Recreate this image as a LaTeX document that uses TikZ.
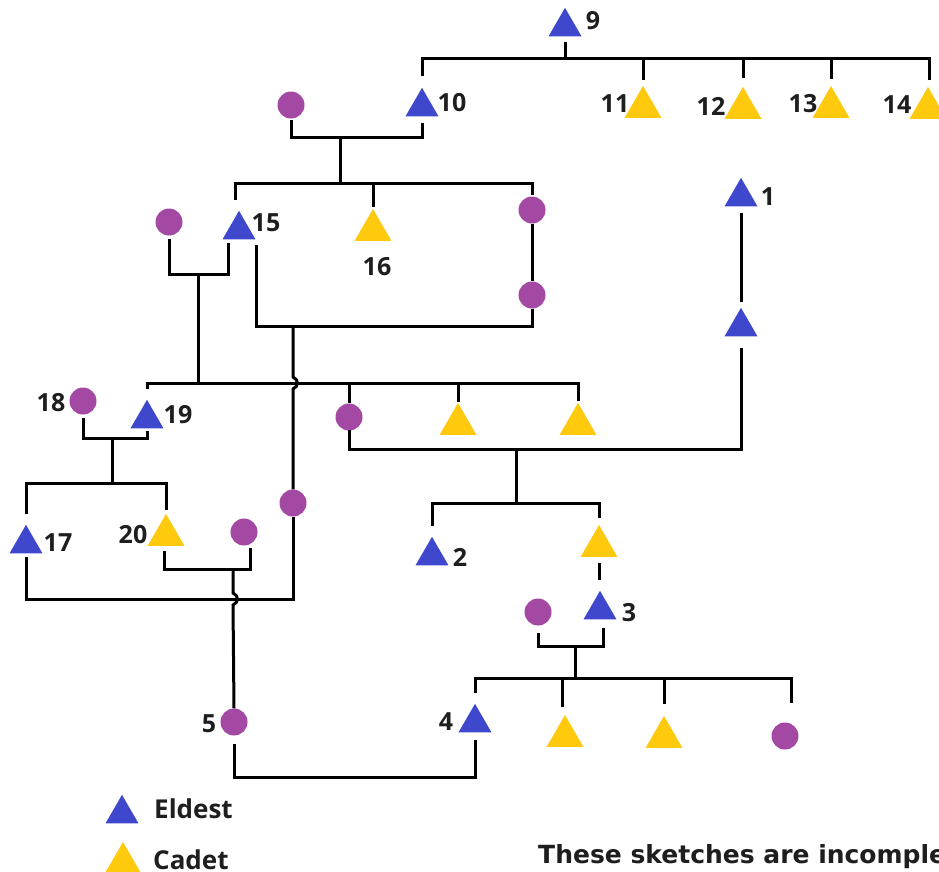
\documentclass[tikz,border=0pt]{standalone}
\usepackage{fontspec}
\setmainfont{Open Sans}
\newfontfamily\notefont{DejaVu Sans}
\usetikzlibrary{shapes.geometric}
\definecolor{eld}{HTML}{3F48CC}
\definecolor{cad}{HTML}{FFC90E}
\definecolor{fem}{HTML}{A349A4}
\definecolor{ink}{HTML}{1E1E1E}
\begin{document}
\begin{tikzpicture}[x=1pt,y=-1pt,
  eldest/.style={regular polygon,regular polygon sides=3,fill=eld,minimum size=38pt,inner sep=0pt,yshift=-4.8pt},
  cadet/.style={regular polygon,regular polygon sides=3,fill=cad,minimum size=42.7pt,inner sep=0pt,yshift=-5.3pt},
  female/.style={circle,fill=fem,minimum size=27pt,inner sep=0pt},
  num/.style={font=\bfseries\fontsize{25}{25}\selectfont,text=ink,inner sep=0pt},
  legtext/.style={font=\bfseries\fontsize{26}{26}\selectfont,text=ink,inner sep=0pt,anchor=base west},
  notetext/.style={font=\notefont\bfseries\fontsize{25}{25}\selectfont,text=ink,inner sep=0pt,anchor=base west},
  link/.style={line width=3pt,draw=black}]
\useasboundingbox (0,0) rectangle (939,871);
\fill[white] (0,0) rectangle (939,871);

% ---- people ----
\node[eldest] (t9) at (565,22) {};
\node[eldest] (t10) at (422,102) {};
\node[cadet] (t11) at (643,102) {};
\node[cadet] (t12) at (743,103) {};
\node[cadet] (t13) at (831,102) {};
\node[cadet] (t14) at (928,103) {};
\node[female] (c10w) at (291,105) {};
\node[eldest] (t15) at (239,225) {};
\node[cadet] (t16) at (373,225) {};
\node[female] (c15a) at (532,210) {};
\node[female] (c15b) at (532,295) {};
\node[female] (c15w) at (169,222) {};
\node[eldest] (t1) at (741,192) {};
\node[eldest] (t1s) at (741,322) {};
\node[female] (c18) at (83,401) {};
\node[eldest] (t19) at (147,414) {};
\node[female] (cA) at (349,417) {};
\node[cadet] (tY1) at (458,419) {};
\node[cadet] (tY2) at (578,419) {};
\node[female] (cm) at (293,503) {};
\node[eldest] (t17) at (26,539) {};
\node[cadet] (t20) at (166,530) {};
\node[female] (c20w) at (244,532) {};
\node[female] (c5) at (234,722) {};
\node[eldest] (t2) at (432,551) {};
\node[cadet] (tY3) at (599,541) {};
\node[eldest] (t3) at (600,605) {};
\node[female] (c3w) at (538,612) {};
\node[eldest] (t4) at (475,718) {};
\node[cadet] (tY4) at (565,731) {};
\node[cadet] (tY5) at (664,732) {};
\node[female] (cD) at (785,736) {};

% ---- labels ----
\node[num] (l9) at (593,21) {9};
\node[num] (l10) at (452,103) {10};
\node[num] (l11) at (615,104) {11};
\node[num] (l12) at (711,106) {12};
\node[num] (l13) at (803,104) {13};
\node[num] (l14) at (897,105) {14};
\node[num] (l15) at (266,223) {15};
\node[num] (l16) at (377,267) {16};
\node[num] (l1) at (768,197) {1};
\node[num] (l18) at (51,403) {18};
\node[num] (l19) at (178,415) {19};
\node[num] (l17) at (58,543) {17};
\node[num] (l20) at (133,535) {20};
\node[num] (l2) at (460,557) {2};
\node[num] (l3) at (629,613) {3};
\node[num] (l4) at (446,722) {4};
\node[num] (l5) at (209,724) {5};

% ---- legend ----
\node[eldest] (legE) at (122,809) {};
\node[cadet] (legC) at (123,858) {};
\node[legtext] (legEt) at (154,818) {Eldest};
\node[legtext] (legCt) at (153,869) {Cadet};
\node[notetext] (note) at (538,863) {These sketches are incomple};

% ---- connectors ----
% family of 9
\draw[link] (t9 |- 0,42) -- (t9 |- 0,58);
\draw[link] (t10 |- 0,76) |- (929,58) -- (929,80);
\draw[link] (t11 |- 0,58) -- (t11 |- 0,80);
\draw[link] (t12 |- 0,58) -- (t12 |- 0,78);
\draw[link] (t13 |- 0,58) -- (t13 |- 0,79);
% 10 and wife
\draw[link] (c10w |- 0,120) |- (t10 |- 0,137) -- (t10 |- 0,123);
\coordinate (m10) at (340,137);
\draw[link] (m10) -- (m10 |- 0,183);
\draw[link] (235,200) |- (c15a |- 0,183) -- (c15a |- 0,195);
\draw[link] (t16 |- 0,183) -- (t16 |- 0,207);
\draw[link] (c15a.south) -- (c15b.north);
% 15 and second wife
\draw[link] (256,245) |- (c15b |- 0,326) -- (c15b |- 0,309);
\coordinate (m15b) at (293,326);
\draw[link] (m15b) -- (293,377) .. controls (299,380) and (299,386) .. (293,389) -- (cm.north);
% 15 and first wife
\draw[link] (c15w |- 0,239) |- (228,274) -- (228,243);
\coordinate (m15a) at (198,274);
\draw[link] (m15a) -- (m15a |- 0,383);
\draw[link] (t19 |- 0,389) |- (tY2 |- 0,383) -- (tY2 |- 0,401);
\draw[link] (cA |- 0,383) -- (cA.north);
\draw[link] (tY1 |- 0,383) -- (tY1 |- 0,402);
% 18 and 19
\draw[link] (c18 |- 0,418) |- (t19 |- 0,438) -- (t19 |- 0,431);
\coordinate (m18) at (112,438);
\draw[link] (m18) -- (m18 |- 0,483);
\draw[link] (t17 |- 0,514) |- (t20 |- 0,483) -- (t20 |- 0,510);
% son of 1 and wife
\draw[link] (t1 |- 0,213) -- (t1 |- 0,302);
\draw[link] (cA |- 0,430) |- (t1s |- 0,449) -- (t1s |- 0,348);
\coordinate (mA) at (516,449);
\draw[link] (mA) -- (mA |- 0,503);
\draw[link] (t2 |- 0,526) |- (tY3 |- 0,503) -- (tY3 |- 0,518);
\draw[link] (tY3 |- 0,563) -- (tY3 |- 0,580);
% 17 and wife
\draw[link] (t17 |- 0,557) |- (cm |- 0,599) -- (cm.south);
% 20 and wife
\draw[link] (164,551) |- (250,569) -- (250,548);
\coordinate (m20) at (233,569);
\draw[link] (m20) -- (233,593) .. controls (239,596) and (239,602) .. (233,605) -- (c5.north);
% 3 and wife
\draw[link] (c3w |- 0,633) |- (603,646) -- (603,628);
\coordinate (m3) at (575,646);
\draw[link] (m3) -- (m3 |- 0,678);
\draw[link] (t4 |- 0,693) |- (791,678) -- (791,703);
\draw[link] (562,678) -- (562,707);
\draw[link] (tY5 |- 0,678) -- (tY5 |- 0,704);
% 5 and 4
\draw[link] (c5 |- 0,744) |- (t4 |- 0,777) -- (t4 |- 0,740);
\end{tikzpicture}
\end{document}
